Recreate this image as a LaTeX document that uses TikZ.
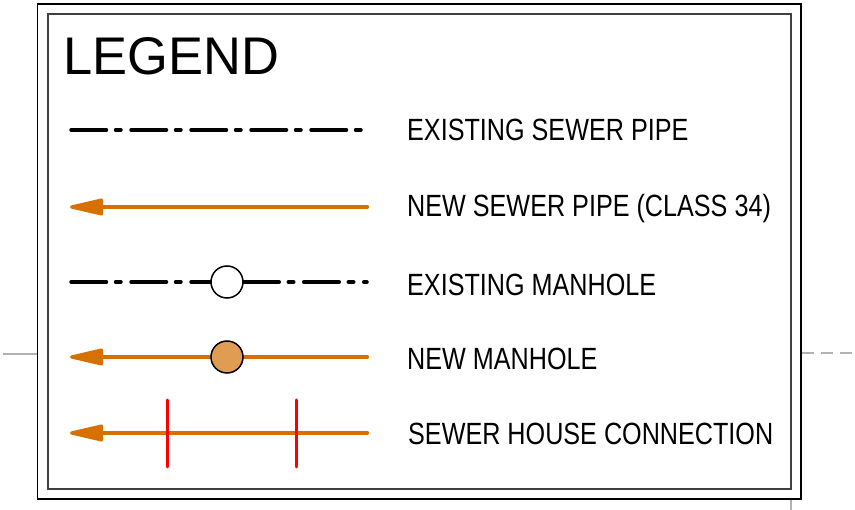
\documentclass[tikz,border=0pt]{standalone}
\usepackage{fontspec}
\setmainfont{Liberation Sans}
\newfontfamily\legfont[FakeStretch=0.82]{Liberation Sans}
\newfontfamily\titlefont[FakeStretch=0.99]{Liberation Sans}
\usetikzlibrary{arrows.meta}
\definecolor{pipeorange}{RGB}{214,112,0}
\definecolor{mhfill}{RGB}{224,156,82}
\definecolor{framegray}{RGB}{64,64,64}
\definecolor{refgray}{RGB}{178,178,178}

\begin{document}
\begin{tikzpicture}[x=1pt,y=-1pt,
	exist/.style={line width=3.5pt,line cap=round,dash pattern=on 35.5pt off 9pt on 5.5pt off 10pt},
	newpipe/.style={draw=pipeorange,line width=3.2pt,line cap=round,-{Triangle[length=39pt,width=17pt,round]}},
	manhole/.style={circle,draw,line width=1.5pt,minimum size=32pt,inner sep=0pt},
	shc/.style={draw=red,line width=3pt,line cap=round},
	txt/.style={anchor=base west,inner sep=0pt,font=\legfont\fontsize{30.7}{36}\selectfont}]
	\useasboundingbox (0,0) rectangle (855,510);
	% frame and sheet lines
	\draw[refgray,line width=1.5pt] (3,354) -- (37,354);
	\draw[refgray,line width=1.5pt,dash pattern=on 12pt off 7pt] (802,353) -- (855,353);
	\draw[refgray,line width=1.2pt] (791,500) -- (791,510);
	\draw[line width=1.3pt] (37.5,4) rectangle (801,499);
	\draw[framegray,line width=2pt] (47.5,14) rectangle (791,489);
	\node[anchor=base west,inner sep=0pt,font=\titlefont\fontsize{53}{60}\selectfont] (title) at (63,75) {LEGEND};
	% existing sewer pipe
	\draw 
		(71,130)  coordinate(p1l)
		(361,130) coordinate(p1r);
	\draw[exist] (p1l) -- (p1r);
	% new sewer pipe
	\draw 
		(70,207)    coordinate(p2l)
		(367.5,207) coordinate(p2r);
	\draw[newpipe] (p2r) -- (p2l);
	% existing manhole
	\draw 
		(71,282)  coordinate(p3l)
		(367,282) coordinate(p3r)
		(227,282) node(mh1) [manhole] {};
	\draw[exist] (p3l) -- (mh1.west);
	\draw[exist] (mh1.east) -- (p3r);
	% new manhole
	\draw 
		(70,357)    coordinate(p4l)
		(367.5,357) coordinate(p4r);
	\draw[newpipe] (p4r) -- (p4l);
	\node[manhole,fill=mhfill] (mh2) at (227,357) {};
	% sewer house connection
	\draw 
		(70,433)    coordinate(p5l)
		(367.5,433) coordinate(p5r)
		(167,400) coordinate(s1t) (167,467) coordinate(s1b)
		(296,400) coordinate(s2t) (296,467) coordinate(s2b);
	\draw[newpipe] (p5r) -- (p5l);
	\draw[shc] (s1t) -- (s1b);
	\draw[shc] (s2t) -- (s2b);
	% texts
	\node[txt] (t1) at (407,141) {EXISTING SEWER PIPE};
	\node[txt] (t2) at (407,217) {NEW SEWER PIPE (CLASS 34)};
	\node[txt] (t3) at (407,296) {EXISTING MANHOLE};
	\node[txt] (t4) at (407,370) {NEW MANHOLE};
	\node[txt] (t5) at (408,445) {SEWER HOUSE CONNECTION};
\end{tikzpicture}
\end{document}
